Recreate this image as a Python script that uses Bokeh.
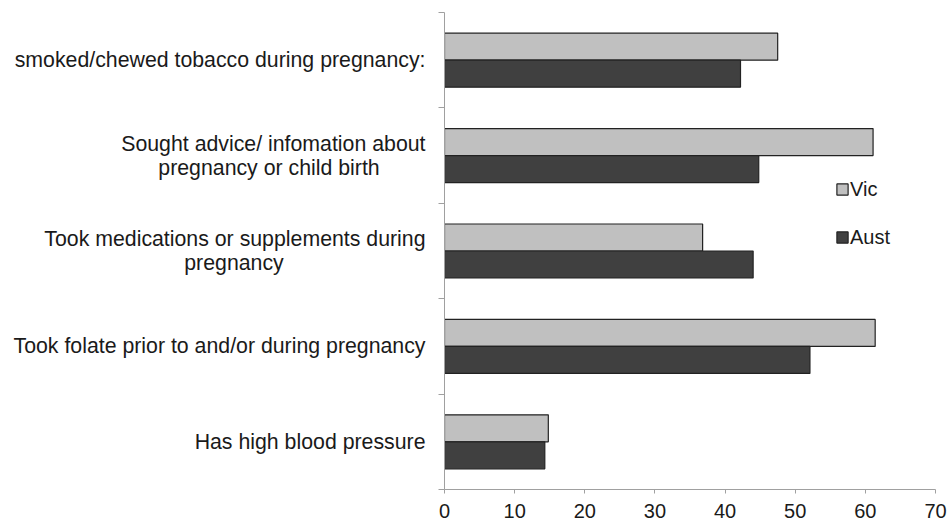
from bokeh.plotting import figure
from bokeh.layouts import row
from bokeh.models import (ColumnDataSource, Range1d, FixedTicker, Legend, LegendItem)
from bokeh.core.properties import value
from bokeh.embed import file_html
from bokeh.resources import INLINE

# ---- data ----
categories = [
    "smoked/chewed tobacco during pregnancy:",
    "Sought advice/ infomation about\npregnancy or child birth",
    "Took medications or supplements during\npregnancy",
    "Took folate prior to and/or during pregnancy",
    "Has high blood pressure",
]
vic = [47.5, 61.1, 36.8, 61.4, 14.8]
aust = [42.2, 44.8, 44.0, 52.1, 14.3]
series = ["Vic", "Aust"]
x_ticks = [0, 10, 20, 30, 40, 50, 60, 70]

# ---- style / layout ----
FONT = "Liberation Sans"
FS = "20px"
CAT_FS = "21.3px"
TEXT_COLOR = "#1a1a1a"
AXIS_COLOR = "#a0a0a0"
fills = {"Vic": "#c0c0c0", "Aust": "#404040"}
BAR_H = 0.283
W, H = 951, 525
LABEL_W = 436          # width of the category-label panel (px)
TOP, BOTTOM = 12, 36
LABEL_RIGHT = 425      # right edge of label text (px in label panel)
second_line_center = {1: 268.5, 2: 233.5}
LINE_GAP = 12

n = len(categories)
centers = [n - i - 0.5 for i in range(n)]          # category slots, top to bottom
offsets = {"Vic": BAR_H / 2, "Aust": -BAR_H / 2}
src = ColumnDataSource(dict(
    cat=categories, Vic=vic, Aust=aust,
    y_Vic=[c + offsets["Vic"] for c in centers],
    y_Aust=[c + offsets["Aust"] for c in centers],
))

y_range = Range1d(0, n)

# ---- bar chart ----
p = figure(width=W - LABEL_W, height=H, y_range=y_range,
           x_range=Range1d(x_ticks[0], x_ticks[-1]),
           output_backend="svg", toolbar_location=None,
           min_border_left=8, min_border_right=16,
           min_border_top=TOP, min_border_bottom=BOTTOM)
p.outline_line_color = None
p.grid.visible = False

renderers = {}
for s in series:
    renderers[s] = p.hbar(y="y_" + s, right=s, left=0,
                          height=BAR_H, source=src, fill_color=fills[s],
                          line_color="#222222", line_width=1.2)

xa = p.xaxis[0]
xa.ticker = FixedTicker(ticks=x_ticks)
xa.axis_line_color = AXIS_COLOR
xa.major_tick_line_color = AXIS_COLOR
xa.major_tick_out = 4
xa.major_tick_in = 0
xa.minor_tick_line_color = None
xa.major_label_text_font = FONT
xa.major_label_text_font_size = FS
xa.major_label_text_color = TEXT_COLOR
xa.major_label_standoff = 10

ya = p.yaxis[0]
ya.ticker = FixedTicker(ticks=list(range(n + 1)))
ya.major_label_overrides = {i: "" for i in range(n + 1)}
ya.major_label_standoff = 0
ya.axis_line_color = AXIS_COLOR
ya.major_tick_line_color = AXIS_COLOR
ya.major_tick_out = 6
ya.major_tick_in = 0
ya.minor_tick_line_color = None

legend = Legend(items=[LegendItem(label=s, renderers=[renderers[s]]) for s in series],
                location=(391, 240), orientation="vertical",
                glyph_width=14, glyph_height=14, label_standoff=1,
                label_text_font=FONT, label_text_font_size=FS,
                label_text_color=TEXT_COLOR, label_height=24, spacing=24,
                padding=0, margin=0, border_line_color=None,
                background_fill_alpha=0)
p.add_layout(legend)

# ---- category label panel (x in pixels) ----
lab = dict(x=[], y=[], text=[], dy=[], align=[])
for i, cat in enumerate(categories):
    lines = cat.split("\n")
    if len(lines) == 1:
        lab["x"].append(LABEL_RIGHT); lab["y"].append(centers[i]); lab["text"].append(lines[0])
        lab["dy"].append(0); lab["align"].append("right")
    else:
        lab["x"].append(LABEL_RIGHT); lab["y"].append(centers[i]); lab["text"].append(lines[0])
        lab["dy"].append(-LINE_GAP); lab["align"].append("right")
        lab["x"].append(second_line_center[i]); lab["y"].append(centers[i]); lab["text"].append(lines[1])
        lab["dy"].append(LINE_GAP); lab["align"].append("center")

q = figure(width=LABEL_W, height=H, y_range=y_range, x_range=Range1d(0, LABEL_W),
           x_axis_type=None, y_axis_type=None,
           output_backend="svg", toolbar_location=None,
           min_border_left=0, min_border_right=0,
           min_border_top=TOP, min_border_bottom=BOTTOM)
q.outline_line_color = None
q.grid.visible = False
for al in ("right", "center"):
    idx = [k for k, a in enumerate(lab["align"]) if a == al]
    s2 = ColumnDataSource({k: [lab[k][j] for j in idx] for k in ("x", "y", "text", "dy")})
    q.text(x="x", y="y", text="text", y_offset="dy", source=s2,
           text_align=al, text_baseline="middle",
           text_font=value(FONT), text_font_size=value(CAT_FS), text_color=TEXT_COLOR)

layout = row(q, p)
open("out.html", "w").write(file_html(layout, INLINE))
